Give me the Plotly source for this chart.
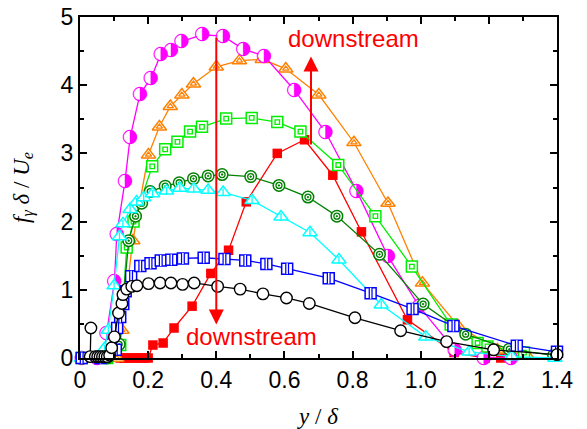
import plotly.graph_objects as go

# ---------------- data ----------------
red_x = [0.118, 0.13, 0.142, 0.154, 0.166, 0.178, 0.19, 0.2, 0.214, 0.244, 0.276, 0.329, 0.384,
         0.436, 0.488, 0.579, 0.659, 0.742, 0.826, 0.961, 1.098, 1.189, 1.235]
red_y = [0.0, 0.0, 0.0, 0.0, 0.0, 0.0, 0.0, 0.0, 0.19, 0.22, 0.44, 0.76, 1.24,
         1.58, 2.29, 3.0, 3.2, 2.68, 1.85, 0.56, 0.08, 0.0, 0.0]

orange_x = [0.005, 0.08, 0.108, 0.123, 0.155, 0.201, 0.233, 0.265, 0.299, 0.333, 0.40, 0.468,
            0.535, 0.604, 0.701, 0.804, 0.904, 1.005, 1.108, 1.225, 1.31]
orange_y = [0.0, 0.0, 0.0, 0.41, 1.72, 2.98, 3.39, 3.69, 3.86, 4.02, 4.27, 4.36,
            4.38, 4.24, 3.86, 3.16, 2.27, 1.10, 0.48, 0.12, 0.05]

magenta_x = [0.005, 0.05, 0.07, 0.078, 0.101, 0.108, 0.132, 0.147, 0.176, 0.208, 0.237, 0.267,
             0.298, 0.359, 0.42, 0.479, 0.54, 0.629, 0.721, 0.812, 0.904, 0.995, 1.10, 1.185, 1.265]
magenta_y = [0.0, 0.0, 0.02, 0.36, 1.12, 1.82, 2.59, 3.23, 3.87, 4.10, 4.45, 4.51,
             4.64, 4.74, 4.72, 4.53, 4.43, 3.93, 3.31, 2.45, 1.49, 0.76, 0.12, 0.0, 0.0]

lime_x = [0.005, 0.08, 0.118, 0.137, 0.157, 0.212, 0.25, 0.286, 0.323, 0.358, 0.429, 0.504,
          0.579, 0.647, 0.758, 0.867, 0.974, 1.088, 1.167, 1.196, 1.303]
lime_y = [0.0, 0.0, 0.19, 1.62, 2.0, 2.81, 3.06, 3.17, 3.32, 3.39, 3.51, 3.52,
          3.46, 3.32, 2.83, 2.08, 1.34, 0.49, 0.22, 0.17, 0.08]

dkgreen_x = [0.005, 0.08, 0.115, 0.143, 0.163, 0.181, 0.206, 0.25, 0.291, 0.333, 0.376, 0.417,
             0.501, 0.584, 0.669, 0.754, 0.879, 1.007, 1.132, 1.26, 1.39]
dkgreen_y = [0.0, 0.0, 0.2, 1.72, 2.08, 2.27, 2.44, 2.52, 2.57, 2.63, 2.67, 2.69,
             2.66, 2.53, 2.36, 2.08, 1.52, 0.79, 0.35, 0.13, 0.04]

cyan_x = [0.005, 0.05, 0.072, 0.083, 0.1, 0.116, 0.126, 0.147, 0.166, 0.187, 0.213, 0.254,
          0.293, 0.334, 0.376, 0.42, 0.505, 0.59, 0.675, 0.76, 0.884, 1.015, 1.142, 1.267, 1.394]
cyan_y = [0.0, 0.0, 0.14, 0.41, 1.06, 1.78, 1.97, 2.18, 2.29, 2.35, 2.41, 2.45,
          2.49, 2.48, 2.46, 2.43, 2.31, 2.07, 1.84, 1.44, 0.78, 0.31, 0.09, 0.02, 0.0]

blue_x = [0.005, 0.06, 0.105, 0.109, 0.118, 0.127, 0.134, 0.15, 0.177, 0.207, 0.237, 0.268,
          0.302, 0.363, 0.424, 0.485, 0.547, 0.608, 0.73, 0.853, 0.976, 1.096, 1.282, 1.4]
blue_y = [0.0, 0.0, 0.12, 0.44, 0.6, 0.79, 0.98, 1.2, 1.35, 1.39, 1.43, 1.44,
          1.46, 1.47, 1.45, 1.43, 1.38, 1.31, 1.17, 0.95, 0.72, 0.47, 0.18, 0.09]

black_x = [0.032, 0.03, 0.045, 0.052, 0.059, 0.066, 0.073, 0.08, 0.087, 0.093, 0.101, 0.113,
           0.123, 0.126, 0.137, 0.152, 0.167, 0.201, 0.235, 0.267, 0.301, 0.335, 0.404, 0.47,
           0.537, 0.606, 0.673, 0.807, 0.941, 1.076, 1.214, 1.40]
black_y = [0.44, 0.02, 0.02, 0.02, 0.02, 0.02, 0.02, 0.02, 0.04, 0.15, 0.31, 0.66,
           0.80, 0.93, 1.01, 1.05, 1.06, 1.09, 1.10, 1.10, 1.08, 1.10, 1.05, 1.01,
           0.94, 0.88, 0.80, 0.59, 0.40, 0.24, 0.12, 0.05]

x_tickvals = [0, 0.2, 0.4, 0.6, 0.8, 1.0, 1.2, 1.4]
x_ticktext = ["0", "0.2", "0.4", "0.6", "0.8", "1.0", "1.2", "1.4"]
y_tickvals = [0, 1, 2, 3, 4, 5]
y_ticktext = ["0", "1", "2", "3", "4", "5"]

# arrows (tail -> tip) and labels
arrow_down = dict(x0=0.4, y0=4.72, x1=0.4, y1=0.49)
arrow_up = dict(x0=0.678, y0=3.11, x1=0.678, y1=4.42)
label_down = dict(x=0.502, y=0.31, text="downstream")
label_up = dict(x=0.803, y=4.68, text="downstream")

RED = "#FF0000"
ORANGE = "#FF8000"
MAGENTA = "#FF00FF"
LIME = "#00EE00"
DKGREEN = "#008000"
CYAN = "#00FFFF"
BLUE = "#0000FF"
BLACK = "#000000"
LW = 1.3

fig = go.Figure()


def line_trace(x, y, color, marker):
    fig.add_trace(go.Scatter(x=x, y=y, mode="lines+markers", cliponaxis=False,
                             line=dict(color=color, width=LW), marker=marker,
                             hoverinfo="skip", showlegend=False))


def overlay(x, y, marker):
    fig.add_trace(go.Scatter(x=x, y=y, mode="markers", cliponaxis=False, marker=marker,
                             hoverinfo="skip", showlegend=False))


# red filled squares
line_trace(red_x, red_y, RED, dict(symbol="square", size=9.5, color=RED, line=dict(width=0)))

# orange double triangles
line_trace(orange_x, orange_y, ORANGE,
           dict(symbol="triangle-up", size=12.5, color="white", line=dict(color=ORANGE, width=1.5)))
overlay(orange_x, orange_y, dict(symbol="triangle-up-open", size=5.5, color=ORANGE,
                                 line=dict(color=ORANGE, width=1.3)))

# magenta half-filled circles
fig.add_trace(go.Scatter(x=magenta_x, y=magenta_y, mode="lines+markers+text", cliponaxis=False,
                         line=dict(color=MAGENTA, width=LW),
                         marker=dict(symbol="circle", size=11.5, color="white", line=dict(width=0)),
                         text=["\u25D1"] * len(magenta_x), textposition="middle center",
                         textfont=dict(family="DejaVu Sans", size=19, color=MAGENTA),
                         hoverinfo="skip", showlegend=False))

# lime double squares
line_trace(lime_x, lime_y, LIME,
           dict(symbol="square", size=11, color="white", line=dict(color=LIME, width=1.5)))
overlay(lime_x, lime_y, dict(symbol="square-open", size=4.5, color=LIME,
                             line=dict(color=LIME, width=1.3)))

# dark green bullseye circles
line_trace(dkgreen_x, dkgreen_y, DKGREEN,
           dict(symbol="circle", size=11.5, color="white", line=dict(color=DKGREEN, width=1.5)))
overlay(dkgreen_x, dkgreen_y, dict(symbol="circle-open-dot", size=6, color=DKGREEN,
                                   line=dict(color=DKGREEN, width=1.3)))

# cyan triangles with centre line
line_trace(cyan_x, cyan_y, CYAN,
           dict(symbol="triangle-up", size=12.5, color="white", line=dict(color=CYAN, width=1.5)))
overlay(cyan_x, cyan_y, dict(symbol="line-ns-open", size=5.5, color=CYAN,
                             line=dict(color=CYAN, width=1.3)))

# blue squares with double bars
line_trace(blue_x, blue_y, BLUE,
           dict(symbol="square", size=11, color="white", line=dict(color=BLUE, width=1.5)))
overlay(blue_x, blue_y, dict(symbol="line-ns-open", size=7.8, color=BLUE,
                             line=dict(color=BLUE, width=4)))
overlay(blue_x, blue_y, dict(symbol="line-ns-open", size=7.8, color="white",
                             line=dict(color="white", width=1.5)))

# black open circles
line_trace(black_x, black_y, BLACK,
           dict(symbol="circle", size=11.5, color="white", line=dict(color=BLACK, width=1.4)))

annotations = []
for a in (arrow_down, arrow_up):
    annotations.append(dict(x=a["x1"], y=a["y1"], ax=a["x0"], ay=a["y0"],
                            xref="x", yref="y", axref="x", ayref="y", text="",
                            showarrow=True, arrowhead=2, arrowsize=1.5, arrowwidth=2,
                            arrowcolor=RED, standoff=0, startstandoff=0))
for lb in (label_down, label_up):
    annotations.append(dict(x=lb["x"], y=lb["y"], xref="x", yref="y", text=lb["text"],
                            showarrow=False, xanchor="center", yanchor="middle",
                            font=dict(family="Liberation Sans, Arial", size=24, color=RED)))

axis_common = dict(showline=True, linecolor="black", linewidth=2, mirror="allticks",
                   ticks="inside", tickcolor="black", tickwidth=1.5, ticklen=7,
                   showgrid=False, zeroline=False, automargin=False,
                   tickfont=dict(family="Liberation Sans, Arial", size=23, color="black"))

fig.update_layout(
    width=587, height=429,
    margin=dict(l=80, r=30, t=17, b=71),
    paper_bgcolor="white", plot_bgcolor="white",
    showlegend=False,
    annotations=annotations,
    xaxis=dict(range=[0, 1.4], tickvals=x_tickvals, ticktext=x_ticktext,
               minor=dict(dtick=0.1, ticks="inside", ticklen=4, tickwidth=1.5, tickcolor="black"),
               title=dict(text="<i>y</i> / <i>δ</i>", standoff=16,
                          font=dict(family="Liberation Serif", size=23, color="black")),
               **axis_common),
    yaxis=dict(range=[0, 5], tickvals=y_tickvals, ticktext=y_ticktext,
               minor=dict(dtick=0.5, ticks="inside", ticklen=4, tickwidth=1.5, tickcolor="black"),
               title=dict(text="<i>f</i><sub><i>γ</i></sub> <i>δ</i> / <i>U</i><sub><i>e</i></sub>",
                          standoff=25,
                          font=dict(family="Liberation Serif", size=23, color="black")),
               **axis_common),
)

fig.write_html("out.html")
